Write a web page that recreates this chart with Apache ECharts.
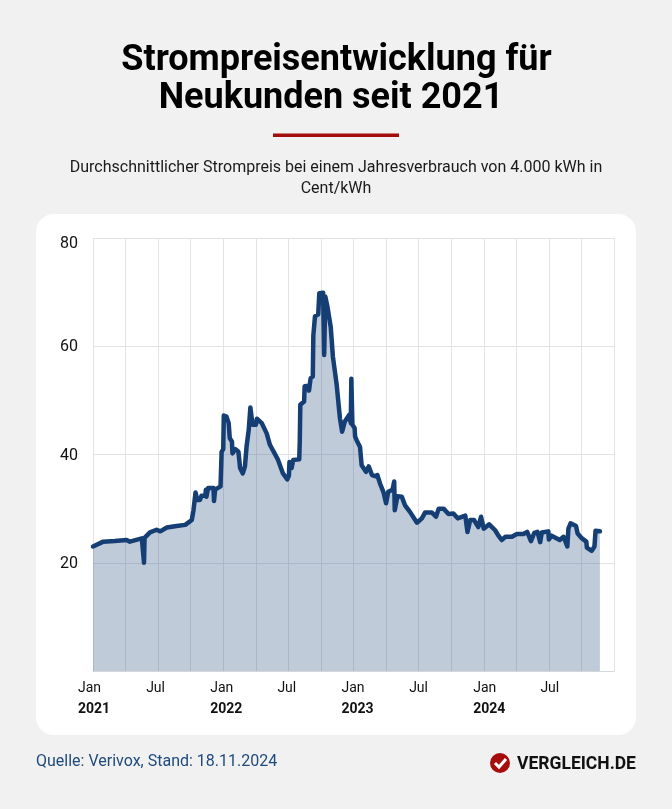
<!DOCTYPE html>
<html><head><meta charset="utf-8">
<style>html,body{margin:0;padding:0;background:#f1f1f1}#c{width:672px;height:809px}</style>
<script src="https://cdn.jsdelivr.net/npm/echarts@6/dist/echarts.min.js"></script>
</head><body><div id="c"></div>
<script>
// x = months since January 2021, y = Cent/kWh
const months = [0,0.95,2,3.1,3.4,4.5,4.65,4.7,4.75,4.85,5.25,5.86,6.2,6.8,7.7,8.5,9.1,9.25,9.45,9.6,9.85,10,10.35,10.4,10.45,10.6,11.1,11.15,11.25,11.75,11.85,12,12.05,12.3,12.5,12.6,12.8,12.85,13.1,13.4,13.55,13.8,14,14.15,14.35,14.5,14.7,15,15.1,15.55,16,16.3,17.05,17.5,17.9,18.05,18.1,18.3,18.45,19,19.05,19.1,19.45,19.5,19.85,19.9,20.05,20.25,20.3,20.45,20.75,20.85,21.2,21.3,21.4,21.6,21.9,22.1,22.45,22.75,22.95,23.2,23.6,23.75,23.8,23.9,24.1,24.15,24.3,24.6,24.75,25.15,25.4,25.7,26,26.2,26.45,26.75,27,27.2,27.6,27.75,27.8,27.9,28.05,28.45,28.75,29.2,29.85,30.3,30.6,31.2,31.6,31.85,32.3,32.75,33.2,33.6,34.3,34.5,34.75,35.1,35.5,35.75,36,36.5,37.05,37.35,37.65,38,38.6,39.05,39.65,40,40.35,40.65,40.95,41.2,41.35,41.95,42,42.25,43,43.35,43.7,43.8,44,44.5,44.65,45.05,45.45,45.5,45.95,46.2,46.3,46.7];
const prices = [23,23.9,24,24.2,23.9,24.5,24.6,20,24.6,24.8,25.6,26.1,25.8,26.5,26.8,27,27.9,29.6,33,31.6,31.6,32.4,32.4,33.5,32.2,33.8,33.8,31.4,33.5,34.1,40.5,41,47.2,47,45.8,43,42.4,40.2,41,40.5,37.5,36.5,37.8,41.5,44.6,48.7,45.5,45.5,46.6,45.8,43.9,41.8,39,36.5,35.4,36.1,38.6,37.5,39,39.1,42.4,49.2,49.8,52.6,52.7,51.8,54.1,54.4,62,65.5,65.9,69.8,69.9,58.4,69.2,67.3,63.6,58.1,52.9,46.7,44.2,46.1,47.3,45.8,54,45.5,44.9,43.3,42.6,41.4,38,36.8,37.8,36.2,36,36.2,34.6,33.1,31,33.1,33.5,35,29.7,29.6,32.3,32.2,30.6,29.4,27.4,28.2,29.3,29.3,28.5,30,30,29,29.1,28.2,28.7,25.7,27.9,27.9,26.6,28.5,26.3,27.1,26,25,24.2,24.8,24.8,25.3,25.3,25.7,24,25.5,25.7,23.8,25.6,25.8,24.3,25,24.2,24.8,23,26.3,27.3,26.8,25.4,24.5,23.9,22.8,22.2,23,25.9,25.8];
const monthTicks = {0:['Jan','2021'],6:['Jul'],12:['Jan','2022'],18:['Jul'],24:['Jan','2023'],30:['Jul'],36:['Jan','2024'],42:['Jul']};
const yTicks = [20,40,60,80];
const titleLines = ['Strompreisentwicklung für','Neukunden seit 2021'];
const subtitleText = 'Durchschnittlicher Strompreis bei einem Jahresverbrauch von 4.000 kWh in\nCent/kWh';
const sourceText = 'Quelle: Verivox, Stand: 18.11.2024';
const brandText = 'VERGLEICH.DE';

const font = 'Roboto';
// label block width per tick: text starts at tick - width/2
const labelWidths = {0:30,6:24,12:26,18:22,24:24,30:19,36:21,42:17};
const rich = {
  t:{fontFamily:font,fontSize:16,color:'#111',padding:[11,0,0,0]},
  n:{fontFamily:font,fontSize:16,color:'#111',padding:[2,0,0,0]}
};
Object.entries(labelWidths).forEach(([k,w])=>{
  rich['m'+k]={fontFamily:font,fontSize:14,color:'#111',width:w,align:'left',lineHeight:21};
  rich['y'+k]={fontFamily:font,fontSize:14,fontWeight:700,color:'#111',width:w,align:'left',lineHeight:21};
});
const titleStyle = {fontFamily:font,fontSize:36,fontWeight:700,color:'#000',lineHeight:38};
const chart = echarts.init(document.getElementById('c'), null, {renderer:'canvas'});
chart.setOption({
  animation:false,
  backgroundColor:'#f1f1f1',
  textStyle:{fontFamily:font},
  title:[
    {text:titleLines[0],left:331.5,top:37,textAlign:'center',textStyle:titleStyle},
    {text:titleLines[1],left:326,top:75,textAlign:'center',textStyle:titleStyle},
    {text:subtitleText,left:331,top:152,textAlign:'center',textStyle:{fontFamily:font,fontSize:16,fontWeight:400,color:'#1a1a1a',lineHeight:21}},
    {text:sourceText,left:31,top:749,textStyle:{fontFamily:font,fontSize:16,fontWeight:400,color:'#1f4a7c'}},
    {text:brandText,left:512,top:751,textStyle:{fontFamily:font,fontSize:17.5,fontWeight:700,color:'#111'}}
  ],
  graphic:[
    {type:'rect',z:-10,silent:true,shape:{x:36,y:214,width:600,height:521,r:18},style:{fill:'#fff'}},
    {type:'rect',silent:true,shape:{x:273,y:133.5,width:126,height:3.5},style:{fill:'#a50d0d'}},
    {type:'circle',silent:true,shape:{cx:500,cy:763,r:10},style:{fill:'#a50d0d'}},
    {type:'polyline',silent:true,z:10,shape:{points:[[495,763],[499,767],[506,759]]},style:{stroke:'#fff',lineWidth:3,fill:null}}
  ],
  grid:{left:93,right:58,top:238,bottom:138},
  xAxis:{type:'value',min:0,max:48,interval:3,
    axisLine:{show:true,lineStyle:{color:'#d4d6da',width:1}},
    axisTick:{show:false},
    splitLine:{show:true,showMinLine:true,showMaxLine:true,lineStyle:{color:'#e3e3e6',width:1}},
    axisLabel:{show:true,margin:7,hideOverlap:false,showMinLabel:true,showMaxLabel:true,color:'#111',
      formatter:v=>{const t=monthTicks[v];if(!t)return '';
        return t.length>1?`{m${v}|${t[0]}}\n{y${v}|${t[1]}}`:`{m${v}|${t[0]}}`;},
      rich}
  },
  yAxis:{type:'value',min:0,max:80,interval:20,
    axisLine:{show:false},axisTick:{show:false},
    splitLine:{show:true,lineStyle:{color:'#e3e3e6',width:1}},
    axisLabel:{margin:15,color:'#111',fontFamily:font,fontSize:16,
      formatter:v=>yTicks.includes(v)?`{${v===80?'t':'n'}|${v}}`:'',rich}
  },
  series:[{type:'line',data:months.map((m,i)=>[m,prices[i]]),showSymbol:false,smooth:false,
    lineStyle:{color:'#153e75',width:4.5,join:'round',cap:'round'},
    areaStyle:{color:'rgba(21,62,117,0.27)',opacity:1},z:5}]
});
</script></body></html>
